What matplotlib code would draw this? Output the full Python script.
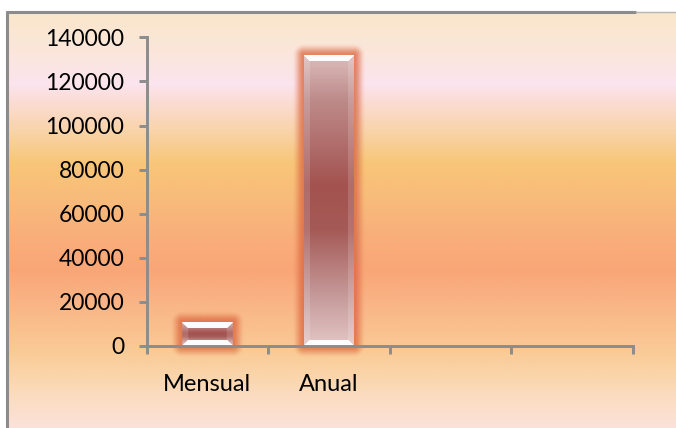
import numpy as np
import matplotlib
matplotlib.use("Agg")
import matplotlib.pyplot as plt
from matplotlib.colors import to_rgb

# datos
categorias = ["Mensual", "Anual", "", ""]
valores = [11000, 132000]
marcas_y = [0, 20000, 40000, 60000, 80000, 100000, 120000, 140000]

ANCHO, ALTO = 676, 428
GRIS = "#8C8C8C"

fig = plt.figure(figsize=(ANCHO / 100, ALTO / 100), dpi=100)

# --- fondo degradado del área del gráfico (coordenadas en píxeles) ---
fondo = fig.add_axes([0, 0, 1, 1], zorder=0)
fondo.set_xlim(0, ANCHO)
fondo.set_ylim(ALTO, 0)
fondo.axis("off")

paradas = [(12, "#FAE7CB"), (45, "#FBE6D8"), (85, "#FCE4EE"), (103, "#FBDCD2"),
           (135, "#F9D2A3"), (163, "#F8C678"), (200, "#F8BB7B"), (235, "#F9AF7A"),
           (270, "#F9A677"), (300, "#F9B385"), (330, "#F9C18E"), (355, "#FACC98"),
           (375, "#FAD5AA"), (395, "#FBDCC0"), (428, "#FCE2DA")]
filas = np.arange(12, ALTO) + 0.5
py = [p for p, _ in paradas]
cols = np.array([to_rgb(c) for _, c in paradas])
grad = np.stack([np.interp(filas, py, cols[:, k]) for k in range(3)], axis=1)
grad = np.repeat(grad[:, None, :], 2, axis=1)
fondo.imshow(grad, extent=(7, ANCHO, ALTO, 12), aspect="auto", interpolation="bilinear")

# borde del gráfico
fondo.plot([7, 7], [10.5, ALTO], color=GRIS, lw=2.2, solid_capstyle="butt")
fondo.plot([6, 636], [11.5, 11.5], color=GRIS, lw=2.2, solid_capstyle="butt")
fondo.plot([636, ANCHO], [11.5, 11.5], color="#B5B5B5", lw=1.0)

# --- ejes principales ---
ax = fig.add_axes([146.5 / ANCHO, (ALTO - 346) / ALTO, (633 - 146.5) / ANCHO, 308.7 / ALTO], zorder=1)
ax.patch.set_alpha(0)
n = len(categorias)
ax.set_xlim(-0.5, n - 0.5)
ax.set_ylim(0, 140000)

x = np.arange(len(valores))
barras = ax.bar(x, valores, width=0.41, color="none", edgecolor="none")
fig.canvas.draw()

# degradado vertical del cuerpo de la barra (0 = arriba, 1 = abajo)
t_cuerpo = [0, 0.15, 0.45, 0.6, 0.85, 1]
c_cuerpo = np.array([to_rgb(c) for c in
                     ("#DDBDBD", "#BE8C8B", "#A3524F", "#A55A57", "#C9A0A0", "#E4C6C6")])


def imagen_barra(W, H, g=12, bisel=6):
    yy, xx = np.mgrid[0:H + 2 * g, 0:W + 2 * g] + 0.5
    dx = np.maximum(np.maximum(g - xx, xx - (g + W)), 0)
    dy = np.maximum(np.maximum(g - yy, yy - (g + H)), 0)
    d = np.hypot(dx, dy)
    dentro = d == 0
    img = np.zeros((H + 2 * g, W + 2 * g, 4))

    # resplandor alrededor, con caída suave
    img[..., :3] = to_rgb("#DC6A42")
    caida = np.clip(1 - d / g, 0, 1)
    img[..., 3] = np.where(dentro, 0, 0.8 * caida ** 2 * (3 - 2 * caida))

    # cuerpo
    t = np.clip((yy - g) / H, 0, 1)
    cuerpo = np.stack([np.interp(t, t_cuerpo, c_cuerpo[:, k]) for k in range(3)], axis=-1)
    lx = xx - g
    ly = yy - g
    lado = (lx < bisel) | (lx > W - bisel)
    cuerpo = np.where(lado[..., None], cuerpo * 0.85 + 0.15, cuerpo)

    # biseles blancos arriba y abajo (trapecios)
    sup = (ly < bisel) & (lx >= ly) & (lx <= W - ly)
    inf = (ly > H - bisel) & (lx >= H - ly) & (lx <= W - (H - ly))
    blanco = sup | inf
    cuerpo = np.where(blanco[..., None], 0.97 + 0.03 * cuerpo, cuerpo)

    img[dentro, :3] = cuerpo[dentro]
    img[dentro, 3] = 1.0
    return img


g = 12
for b in barras:
    x0, x1 = b.get_x(), b.get_x() + b.get_width()
    h = b.get_height()
    (p0x, p0y), (p1x, p1y) = ax.transData.transform([(x0, 0), (x1, h)])
    W = int(round(p1x - p0x))
    H = int(round(p1y - p0y))
    ppx = (x1 - x0) / (p1x - p0x)
    ppy = h / (p1y - p0y)
    ax.imshow(imagen_barra(W, H, g), extent=(x0 - g * ppx, x0 + (W + g) * ppx,
                                             -g * ppy, (H + g) * ppy),
              aspect="auto", interpolation="bilinear", clip_on=False, zorder=1.5)

ax.set_xlim(-0.5, n - 0.5)
ax.set_ylim(0, 140000)

# ejes y marcas
for s in ("top", "right"):
    ax.spines[s].set_visible(False)
for s in ("left", "bottom"):
    ax.spines[s].set_color(GRIS)
    ax.spines[s].set_linewidth(2.1)
    ax.spines[s].set_zorder(3)

ax.set_yticks(marcas_y)
ax.set_yticklabels([str(v) for v in marcas_y], fontsize=16.5, fontfamily="Lato")
ax.tick_params(axis="y", length=6, width=2.1, color=GRIS, pad=10)

ax.set_xticks(np.arange(n + 1) - 0.5)
ax.set_xticklabels([])
ax.set_xticks(np.arange(n), minor=True)
ax.set_xticklabels(categorias, minor=True, fontsize=17, fontfamily="Lato")
ax.tick_params(axis="x", which="major", length=6, width=2.1, color=GRIS)
ax.tick_params(axis="x", which="minor", length=0, pad=20)

fig.savefig("out.png", dpi=100)
